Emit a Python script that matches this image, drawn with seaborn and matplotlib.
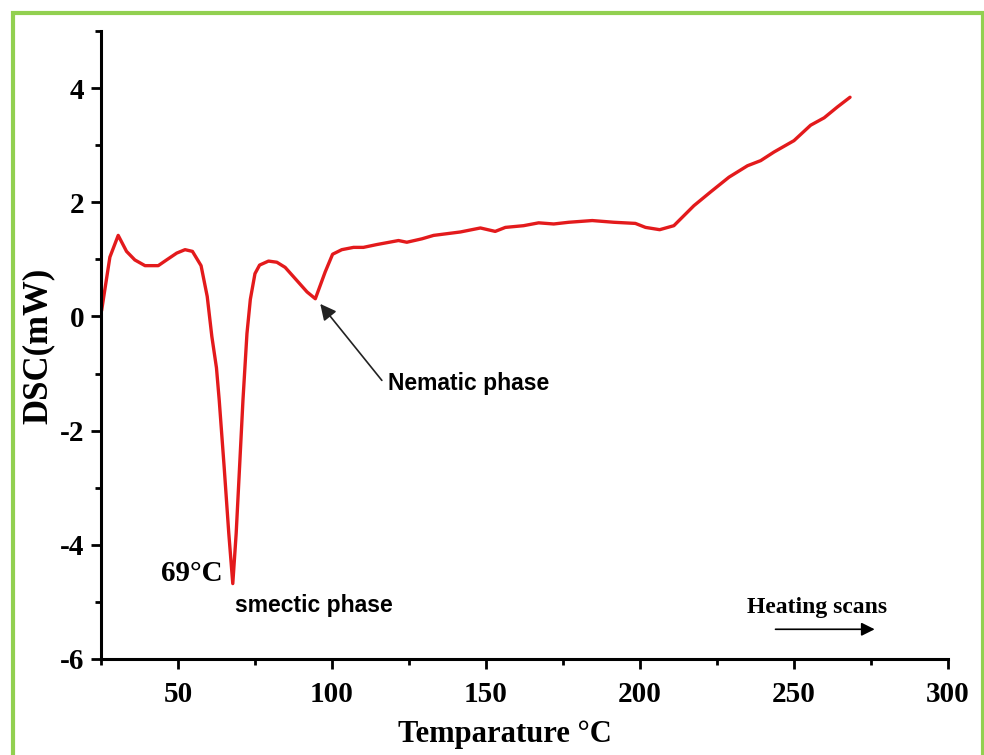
import numpy as np
import pandas as pd
import matplotlib
matplotlib.use("Agg")
import matplotlib.pyplot as plt
from matplotlib.patches import Rectangle
from matplotlib.ticker import MultipleLocator
import seaborn as sns

# ---- data ----
temperature = [25.2, 27.9, 30.6, 33.3, 36.0, 39.3, 43.6, 46.3, 49.6, 52.3, 54.7,
               57.5, 59.5, 61.0, 62.5, 63.4, 65.0, 66.5, 67.8, 68.9, 70.0, 71.1,
               72.4, 73.5, 75.0, 76.5, 79.4, 82.1, 84.8, 88.6, 91.9, 94.6, 97.8,
               100.2, 103.2, 107.0, 110.2, 114.6, 121.6, 124.3, 129.2, 133.0,
               141.7, 148.2, 153.0, 156.3, 162.2, 167.1, 172.0, 176.9, 184.5,
               191.5, 198.5, 201.8, 206.4, 211.0, 217.5, 222.9, 228.9, 234.9,
               239.2, 243.5, 250.0, 255.4, 259.8, 264.1, 268.2]
dsc = [0.10, 1.04, 1.42, 1.14, 0.99, 0.89, 0.89, 0.99, 1.11, 1.17, 1.14,
       0.89, 0.35, -0.35, -0.90, -1.47, -2.64, -3.80, -4.68, -3.80, -2.64, -1.47,
       -0.30, 0.30, 0.75, 0.90, 0.97, 0.95, 0.86, 0.63, 0.43, 0.31, 0.78,
       1.09, 1.17, 1.21, 1.21, 1.26, 1.33, 1.30, 1.36, 1.42,
       1.48, 1.55, 1.49, 1.56, 1.59, 1.64, 1.62, 1.65, 1.68,
       1.65, 1.63, 1.56, 1.52, 1.59, 1.94, 2.18, 2.44, 2.64,
       2.73, 2.88, 3.08, 3.35, 3.48, 3.67, 3.84]

x_ticks = [50, 100, 150, 200, 250, 300]
y_ticks = [-6, -4, -2, 0, 2, 4]

df = pd.DataFrame({"Temperature": temperature, "DSC": dsc})

sns.set_style("ticks")
plt.rcParams["font.family"] = ["Liberation Serif", "DejaVu Serif"]
plt.rcParams["axes.unicode_minus"] = False
plt.rcParams["text.color"] = "black"
plt.rcParams["axes.labelcolor"] = "black"
plt.rcParams["xtick.color"] = "black"
plt.rcParams["ytick.color"] = "black"

fig = plt.figure(figsize=(9.84, 7.55), dpi=100)
ax = fig.add_axes([0.1026, 0.1272, 0.8608, 0.8317])

sns.lineplot(data=df, x="Temperature", y="DSC", ax=ax, color="#e31a1c",
             linewidth=2.4, sort=False)

ax.set_xlim(25, 300)
ax.set_ylim(-6, 5)
ax.set_xticks(x_ticks)
ax.set_yticks(y_ticks)
ax.xaxis.set_minor_locator(MultipleLocator(25))
ax.yaxis.set_minor_locator(MultipleLocator(1))
for s in ["top", "right"]:
    ax.spines[s].set_visible(False)
for s in ["left", "bottom"]:
    ax.spines[s].set_linewidth(2.2)
    ax.spines[s].set_color("black")
ax.tick_params(which="major", length=7, width=2.0, direction="out", colors="black")
ax.tick_params(which="minor", length=4.5, width=2.0, direction="out", colors="black")
ax.tick_params(axis="x", which="major", pad=9)
ax.tick_params(axis="y", which="major", pad=5)
for lab in ax.get_xticklabels() + ax.get_yticklabels():
    lab.set_fontsize(21)
    lab.set_fontweight("bold")
    lab.set_color("black")

ax.set_xlabel("Temparature °C", fontsize=22, fontweight="bold", color="black")
ax.set_ylabel("DSC(mW)", fontsize=25, fontweight="bold", color="black")
ax.xaxis.set_label_coords(0.477, -0.097)
ax.yaxis.label.set_va("center")
ax.yaxis.set_label_coords(-0.074, (659 - 346) / 627)

sans = ["Liberation Sans", "DejaVu Sans"]
ax.text(64.5, -4.5, "69°C", fontsize=21, fontweight="bold", ha="right",
        va="center", color="black")
ax.text(68.5, -5.06, "smectic phase", fontsize=16.5, fontweight="bold", ha="left",
        va="center", family=sans, color="black")
ax.text(118.3, -1.17, "Nematic phase", fontsize=16.5, fontweight="bold", ha="left",
        va="center", family=sans, color="black")
ax.annotate("", xy=(96.2, 0.22), xytext=(116.2, -1.12),
            arrowprops=dict(arrowstyle="-|>", color="#222222", lw=1.2,
                            mutation_scale=24, shrinkA=0, shrinkB=0))
ax.text(257.5, -5.09, "Heating scans", fontsize=17, fontweight="bold",
        ha="center", va="center", color="black")
ax.annotate("", xy=(276.2, -5.48), xytext=(244.0, -5.48),
            arrowprops=dict(arrowstyle="-|>", color="black", lw=1.2,
                            mutation_scale=20, shrinkA=0, shrinkB=0))

# green frame around the figure
fig.patches.append(Rectangle((12.5 / 984, -0.05), (983 - 12.5) / 984, 1.05 - 12.5 / 755,
                             transform=fig.transFigure, fill=False,
                             edgecolor="#92d050", linewidth=3.0, zorder=10))

fig.savefig("out.png", dpi=100)
